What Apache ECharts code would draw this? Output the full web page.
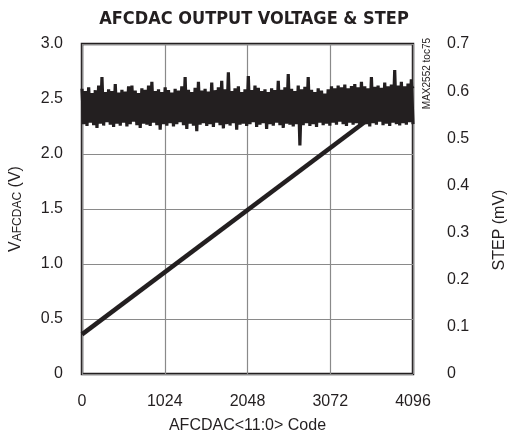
<!DOCTYPE html>
<html>
<head>
<meta charset="utf-8">
<script src="https://cdn.jsdelivr.net/npm/echarts@6/dist/echarts.min.js"></script>
<style>
  html, body { margin: 0; padding: 0; background: #fff; }
  #chart { width: 509px; height: 444px; }
</style>
</head>
<body>
<div id="chart"></div>
<script>
// output voltage (V) vs code
const voltCodes = [0, 4096];
const voltValues = [0.36, 2.62];

const stepTop = [
  0.605, 0.600, 0.608, 0.596, 0.602, 0.612, 0.630, 0.598, 0.604, 0.600,
  0.615, 0.597, 0.603, 0.599, 0.610, 0.612, 0.601, 0.596, 0.606, 0.603,
  0.612, 0.620, 0.600, 0.604, 0.598, 0.608, 0.602, 0.597, 0.605, 0.601,
  0.610, 0.630, 0.603, 0.598, 0.607, 0.620, 0.601, 0.605, 0.599, 0.618,
  0.602, 0.608, 0.622, 0.604, 0.640, 0.600, 0.606, 0.610, 0.598, 0.604,
  0.632, 0.602, 0.612, 0.607, 0.600, 0.604, 0.598, 0.606, 0.602, 0.622,
  0.603, 0.608, 0.636, 0.605, 0.600, 0.612, 0.604, 0.609, 0.630, 0.603,
  0.598, 0.606, 0.601, 0.595, 0.604, 0.610, 0.606, 0.612, 0.608, 0.614,
  0.606, 0.611, 0.615, 0.608, 0.620, 0.610, 0.606, 0.630, 0.609, 0.612,
  0.607, 0.618, 0.610, 0.614, 0.645, 0.612, 0.620, 0.610, 0.616, 0.625
];
const stepBottom = [
  0.530, 0.526, 0.533, 0.528, 0.522, 0.531, 0.527, 0.534, 0.529, 0.524,
  0.531, 0.527, 0.533, 0.525, 0.530, 0.535, 0.528, 0.522, 0.531, 0.529,
  0.526, 0.533, 0.528, 0.518, 0.530, 0.527, 0.532, 0.525, 0.530, 0.534,
  0.528, 0.520, 0.531, 0.527, 0.515, 0.529, 0.532, 0.526, 0.530, 0.524,
  0.533, 0.528, 0.521, 0.530, 0.527, 0.532, 0.518, 0.529, 0.531, 0.526,
  0.530, 0.534, 0.524, 0.529, 0.532, 0.520, 0.530, 0.527, 0.533, 0.528,
  0.522, 0.531, 0.529, 0.525, 0.530, 0.485, 0.528, 0.532, 0.526, 0.530,
  0.524, 0.533, 0.528, 0.531, 0.527, 0.533, 0.529, 0.535, 0.530, 0.526,
  0.533, 0.529, 0.532, 0.527, 0.534, 0.530, 0.525, 0.532, 0.529, 0.535,
  0.528, 0.531, 0.526, 0.533, 0.530, 0.527, 0.532, 0.529, 0.534, 0.530
];

const ink = '#231f20';
const font = '"Liberation Sans", Arial, sans-serif';
const titleFont = '"DejaVu Sans Condensed", "Liberation Sans", sans-serif';

// zigzag top/bottom so the trace reads as a dense band
const stepData = [];
const nPts = stepTop.length * 2;
for (let i = 0; i < stepTop.length; i++) {
  stepData.push([(2 * i) * 4096 / (nPts - 1), stepTop[i]]);
  stepData.push([(2 * i + 1) * 4096 / (nPts - 1), stepBottom[i]]);
}

const voltData = voltCodes.map((c, i) => [c, voltValues[i]]);

function fmt(v) {
  return v === 0 ? '0' : v.toFixed(1);
}

const chart = echarts.init(document.getElementById('chart'), null, { renderer: 'canvas' });

chart.setOption({
  animation: false,
  backgroundColor: '#fff',
  title: {
    text: 'AFCDAC OUTPUT VOLTAGE & STEP',
    left: 249,
    textAlign: 'center',
    top: 5,
    textStyle: { fontFamily: titleFont, fontWeight: 'bold', fontSize: 18, color: ink }
  },
  grid: {
    left: 82, right: 96, top: 44, bottom: 70,
    outerBoundsMode: 'none',
    containLabel: false,
    show: true, borderColor: ink, borderWidth: 2.5, backgroundColor: 'transparent'
  },
  xAxis: {
    type: 'value',
    min: 0, max: 4096, interval: 1024,
    name: 'AFCDAC<11:0> Code',
    nameLocation: 'middle',
    nameGap: 44,
    nameTextStyle: { fontFamily: font, fontSize: 16, color: ink },
    axisLine: { show: false },
    axisTick: { show: false },
    axisLabel: { fontFamily: font, fontSize: 16, color: ink, margin: 20, formatter: v => String(v) },
    splitLine: { show: true, lineStyle: { color: '#8a8a8a', width: 1.2 } }
  },
  yAxis: [
    {
      type: 'value',
      min: 0, max: 3.0, interval: 0.5,
      name: '{v|V}{s|AFCDAC}{v| (V)}',
      nameLocation: 'middle',
      nameGap: 58,
      nameTextStyle: {
        fontFamily: font, color: ink,
        rich: {
          v: { fontFamily: font, fontSize: 16, color: ink, verticalAlign: 'bottom', lineHeight: 20 },
          s: { fontFamily: font, fontSize: 12, color: ink, verticalAlign: 'bottom', lineHeight: 13 }
        }
      },
      axisLine: { show: false },
      axisTick: { show: false },
      axisLabel: { fontFamily: font, fontSize: 16, color: ink, margin: 19, formatter: fmt },
      splitLine: { show: true, lineStyle: { color: '#8a8a8a', width: 1.2 } }
    },
    {
      type: 'value',
      position: 'right',
      min: 0, max: 0.7, interval: 0.1,
      name: 'STEP (mV)',
      nameLocation: 'middle',
      nameGap: 79,
      nameTextStyle: { fontFamily: font, fontSize: 16, color: ink, padding: [0, 42, 0, 0] },
      axisLine: { show: false },
      axisTick: { show: false },
      axisLabel: { fontFamily: font, fontSize: 16, color: ink, margin: 34, formatter: fmt },
      splitLine: { show: false }
    }
  ],
  graphic: [
    {
      type: 'text',
      left: 422, top: 38,
      rotation: Math.PI / 2,
      originX: 0, originY: 0,
      style: { text: 'MAX2552 toc75', fontFamily: font, fontSize: 10, fill: ink }
    }
  ],
  series: [
    {
      type: 'line',
      yAxisIndex: 0,
      data: voltData,
      showSymbol: false,
      lineStyle: { color: ink, width: 4.5 },
      silent: true
    },
    {
      type: 'line',
      yAxisIndex: 1,
      data: stepData,
      showSymbol: false,
      lineStyle: { color: ink, width: 3.2, join: 'bevel' },
      silent: true
    }
  ]
});
</script>
</body>
</html>
